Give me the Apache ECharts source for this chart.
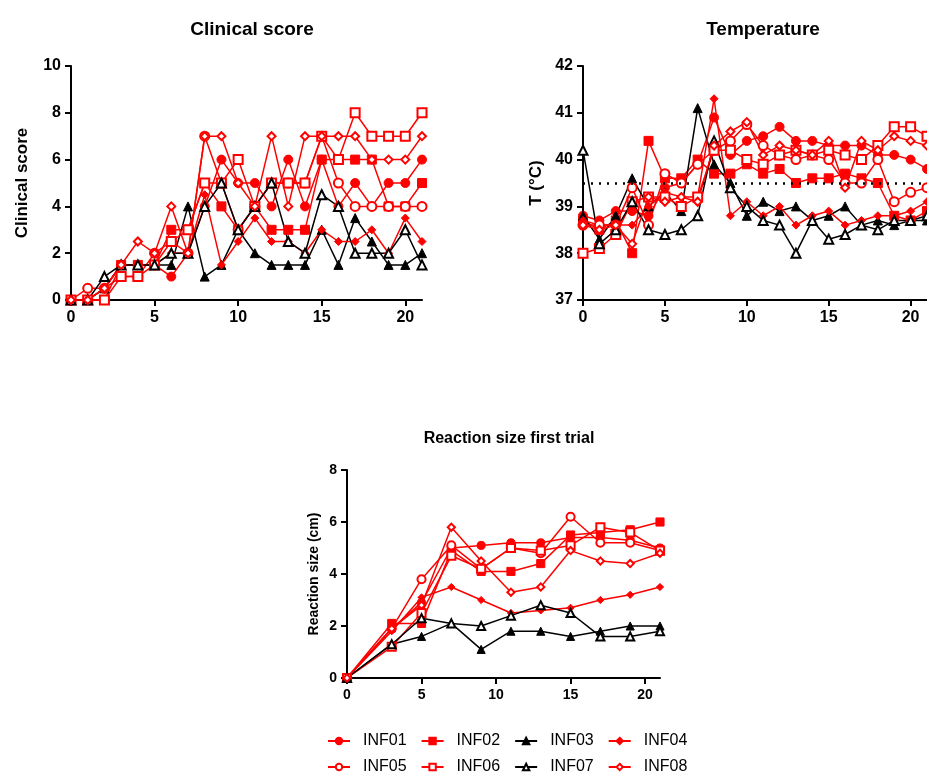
<!DOCTYPE html>
<html>
<head>
<meta charset="utf-8">
<script src="https://cdn.jsdelivr.net/npm/echarts@6/dist/echarts.min.js"></script>
<style>
	html, body { margin: 0; padding: 0; background: #fff; overflow: hidden; }
	#main { width: 927px; height: 774px; }
</style>
</head>
<body>
<div id="main"></div>
<script>
var names = ['INF01', 'INF02', 'INF03', 'INF04', 'INF05', 'INF06', 'INF07', 'INF08'];
var days = [0, 1, 2, 3, 4, 5, 6, 7, 8, 9, 10, 11, 12, 13, 14, 15, 16, 17, 18, 19, 20, 21];
var reactDays = [0, 3, 5, 7, 9, 11, 13, 15, 17, 19, 21];

// clinical score
var score01 = [0, 0, 0.5, 1.5, 1.5, 1.5, 1, 2, 4, 6, 5, 5, 4, 6, 4, 6, 4, 5, 4, 5, 5, 6];
var score02 = [0, 0, 0, 1.5, 1.5, 1.5, 3, 3, 5, 4, 3, 4, 3, 3, 3, 6, 6, 6, 6, 4, 4, 5];
var score03 = [0, 0, 0.5, 1.5, 1.5, 1.5, 1.5, 4, 1, 1.5, 3, 2, 1.5, 1.5, 1.5, 3, 1.5, 3.5, 2.5, 1.5, 1.5, 2];
var score04 = [0, 0, 0.5, 1.5, 1.5, 1.5, 2, 2, 4.5, 1.5, 2.5, 3.5, 2.5, 2.5, 2, 3, 2.5, 2.5, 3, 2, 3.5, 2.5];
var score05 = [0, 0.5, 0.5, 1, 1, 2, 2.5, 2, 7, 5, 3, 4, 5, 5, 5, 7, 5, 4, 4, 4, 4, 4];
var score06 = [0, 0, 0, 1, 1, 1.5, 2.5, 3, 5, 5, 6, 4, 5, 5, 5, 7, 6, 8, 7, 7, 7, 8];
var score07 = [0, 0, 1, 1.5, 1.5, 1.5, 2, 2, 4, 5, 3, 4, 5, 2.5, 2, 4.5, 4, 2, 2, 2, 3, 1.5];
var score08 = [0, 0, 0.5, 1.5, 2.5, 2, 4, 2, 7, 7, 5, 4, 7, 4, 7, 7, 7, 7, 6, 6, 6, 7];

// temperature
var temp01 = [38.8, 38.7, 38.9, 38.9, 38.8, 39.4, 39.5, 39.9, 40.9, 40.1, 40.4, 40.5, 40.7, 40.4, 40.4, 40.3, 40.3, 40.3, 40.1, 40.1, 40.0, 39.8];
var temp02 = [38.7, 38.5, 38.7, 38.0, 40.4, 39.6, 39.6, 40.0, 39.7, 39.7, 39.9, 39.7, 39.8, 39.5, 39.6, 39.6, 39.7, 39.6, 39.5, 38.8, 38.7, 38.9];
var temp03 = [38.8, 38.3, 38.8, 39.6, 39.0, 39.3, 38.9, 41.1, 39.9, 39.5, 38.8, 39.1, 38.9, 39.0, 38.7, 38.8, 39.0, 38.6, 38.7, 38.6, 38.7, 38.7];
var temp04 = [38.7, 38.6, 38.6, 38.6, 39.0, 39.3, 39.2, 39.2, 41.3, 38.8, 39.1, 38.8, 39.0, 38.6, 38.8, 38.9, 38.6, 38.7, 38.8, 38.8, 38.9, 39.1];
var temp05 = [38.6, 38.6, 38.6, 39.4, 38.6, 39.7, 39.5, 39.9, 40.2, 40.4, 40.75, 40.3, 40.1, 40.0, 40.1, 40.0, 39.5, 39.5, 40.0, 39.1, 39.3, 39.4];
var temp06 = [38.0, 38.1, 38.4, 39.1, 39.2, 39.2, 39.0, 39.2, 40.2, 40.2, 40.0, 39.9, 40.1, 40.2, 40.1, 40.2, 40.1, 40.0, 40.3, 40.7, 40.7, 40.5];
var temp07 = [40.2, 38.2, 38.5, 39.1, 38.5, 38.4, 38.5, 38.8, 40.4, 39.4, 39.0, 38.7, 38.6, 38.0, 38.7, 38.3, 38.4, 38.6, 38.5, 38.7, 38.7, 38.8];
var temp08 = [38.6, 38.5, 38.6, 38.2, 39.2, 39.1, 39.2, 39.1, 40.3, 40.6, 40.8, 40.1, 40.3, 40.2, 40.1, 40.4, 39.4, 40.4, 40.2, 40.5, 40.4, 40.3];

// reaction size first trial
var react01 = [0, 1.9, 2.9, 5.0, 5.1, 5.2, 5.2, 5.4, 5.4, 5.3, 5.0];
var react02 = [0, 2.1, 2.1, 4.9, 4.1, 4.1, 4.4, 5.5, 5.6, 5.7, 6.0];
var react03 = [0, 1.3, 1.6, 2.1, 1.1, 1.8, 1.8, 1.6, 1.8, 2.0, 2.0];
var react04 = [0, 1.8, 3.1, 3.5, 3.0, 2.5, 2.6, 2.7, 3.0, 3.2, 3.5];
var react05 = [0, 1.9, 3.8, 5.1, 4.2, 5.0, 4.8, 6.2, 5.2, 5.2, 4.9];
var react06 = [0, 1.2, 2.5, 4.7, 4.2, 5.0, 4.9, 5.1, 5.8, 5.6, 4.9];
var react07 = [0, 1.3, 2.3, 2.1, 2.0, 2.4, 2.8, 2.5, 1.6, 1.6, 1.8];
var react08 = [0, 1.9, 2.8, 5.8, 4.5, 3.3, 3.5, 4.9, 4.5, 4.4, 4.8];

var scores = [score01, score02, score03, score04, score05, score06, score07, score08];
var temps = [temp01, temp02, temp03, temp04, temp05, temp06, temp07, temp08];
var reacts = [react01, react02, react03, react04, react05, react06, react07, react08];

var symbols = ['circle', 'rect', 'triangle', 'diamond', 'emptyCircle', 'emptyRect', 'emptyTriangle', 'emptyDiamond'];
var colors = ['#ff0000', '#ff0000', '#000000', '#ff0000', '#ff0000', '#ff0000', '#000000', '#ff0000'];
var sizes = [9, 9, 9, 8, 9, 9, 9, 8];

var font = 'Arial, "Liberation Sans", sans-serif';
var chart = echarts.init(document.getElementById('main'), null, { renderer: 'canvas' });

function pairs(xs, ys) {
	var out = [];
	for (var i = 0; i < ys.length; i++) {
		out.push([xs[i], ys[i]]);
	}
	return out;
}

function axisX(grid, labelSize) {
	return {
		type: 'value',
		gridIndex: grid,
		min: 0,
		max: 21,
		interval: 5,
		axisLine: { show: true, onZero: false, lineStyle: { color: '#000', width: 2 } },
		axisTick: { show: true, length: 6, lineStyle: { color: '#000', width: 2 } },
		axisLabel: { color: '#000', fontFamily: font, fontWeight: 'bold', fontSize: labelSize, margin: 10 },
		splitLine: { show: false }
	};
}

function axisY(grid, min, max, interval, name, nameSize, nameGap, labelSize) {
	return {
		type: 'value',
		gridIndex: grid,
		min: min,
		max: max,
		interval: interval,
		name: name,
		nameLocation: 'middle',
		nameRotate: 90,
		nameGap: nameGap,
		nameTextStyle: { color: '#000', fontFamily: font, fontWeight: 'bold', fontSize: nameSize },
		axisLine: { show: true, onZero: false, lineStyle: { color: '#000', width: 2 } },
		axisTick: { show: true, length: 6, lineStyle: { color: '#000', width: 2 } },
		axisLabel: { color: '#000', fontFamily: font, fontWeight: 'bold', fontSize: labelSize, margin: 10 },
		splitLine: { show: false }
	};
}

var series = [];
function addPanel(grid, xs, group, symScale) {
	for (var i = 0; i < names.length; i++) {
		series.push({
			name: names[i],
			type: 'line',
			xAxisIndex: grid,
			yAxisIndex: grid,
			data: pairs(xs, group[i]),
			symbol: symbols[i],
			symbolSize: sizes[i] * symScale,
			showAllSymbol: true,
			animation: false,
			clip: false,
			itemStyle: { color: colors[i], borderColor: colors[i], borderWidth: 1 },
			lineStyle: { color: colors[i], width: 1.5 }
		});
	}
}
addPanel(0, days, scores, 1);
addPanel(1, days, temps, 1);
addPanel(2, reactDays, reacts, 0.9);

// dotted reference line at 39.5 °C
series[8].markLine = {
	silent: true,
	symbol: 'none',
	animation: false,
	label: { show: false },
	lineStyle: { color: '#000', type: [2, 6], width: 2.5 },
	data: [{ yAxis: 39.5 }]
};

var legendText = { color: '#000', fontFamily: font, fontSize: 16, padding: [0, 0, 0, 8] };

var option = {
	backgroundColor: '#fff',
	title: [{
		text: 'Clinical score',
		left: 247,
		top: 15,
		textAlign: 'center',
		textStyle: { color: '#000', fontFamily: font, fontWeight: 'bold', fontSize: 19 }
	}, {
		text: 'Temperature',
		left: 758,
		top: 15,
		textAlign: 'center',
		textStyle: { color: '#000', fontFamily: font, fontWeight: 'bold', fontSize: 19 }
	}, {
		text: 'Reaction size first trial',
		left: 504,
		top: 426,
		textAlign: 'center',
		textStyle: { color: '#000', fontFamily: font, fontWeight: 'bold', fontSize: 16 }
	}],
	legend: [{
		data: names.slice(0, 4),
		left: 322,
		top: 728,
		itemWidth: 22,
		itemHeight: 8,
		itemGap: 14,
		textStyle: legendText
	}, {
		data: names.slice(4, 8),
		left: 322,
		top: 754,
		itemWidth: 22,
		itemHeight: 8,
		itemGap: 14,
		textStyle: legendText
	}],
	grid: [
		{ left: 71, top: 66, width: 351, height: 234 },
		{ left: 583, top: 66, width: 349, height: 234 },
		{ left: 347, top: 470, width: 313, height: 208 }
	],
	xAxis: [axisX(0, 16), axisX(1, 16), axisX(2, 14)],
	yAxis: [
		axisY(0, 0, 10, 2, 'Clinical score', 17, 40, 16),
		axisY(1, 37, 42, 1, 'T (°C)', 17, 38, 16),
		axisY(2, 0, 8, 2, 'Reaction size (cm)', 14, 26, 14)
	],
	series: series
};

chart.setOption(option);
</script>
</body>
</html>
